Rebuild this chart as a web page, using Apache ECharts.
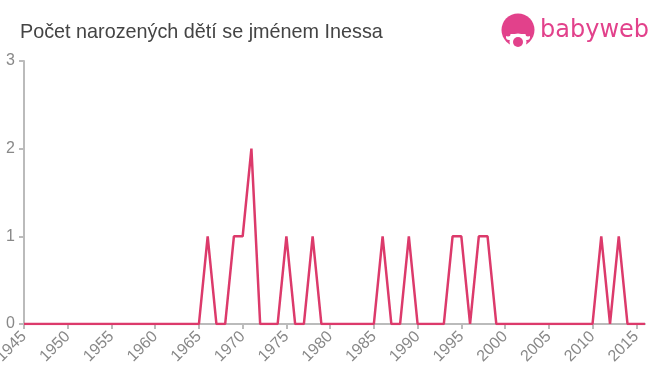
<!DOCTYPE html>
<html>
<head>
<meta charset="utf-8">
<script src="https://cdn.jsdelivr.net/npm/echarts@6/dist/echarts.min.js"></script>
<style>html,body{margin:0;padding:0;background:#fff}#c{width:660px;height:375px}</style>
</head>
<body>
<div id="c"></div>
<script>
var years = [];
for (var y = 1945; y <= 2016; y++) years.push(String(y));
// counts per year 1945..2016
var counts = [
  0,0,0,0,0, 0,0,0,0,0, 0,0,0,0,0, 0,0,0,0,0,   // 1945-1964
  0,1,0,0,1, 1,2,0,0,0, 1,0,0,1,0,            // 1965-1979
  0,0,0,0,0, 0,1,0,0,1, 0,0,0,0,1,            // 1980-1994
  1,0,1,1,0, 0,0,0,0,0, 0,0,0,0,0,            // 1995-2009
  0,1,0,1,0, 0,0                              // 2010-2016
];
var yTicks = [0, 1, 2, 3];
var title = 'Počet narozených dětí se jménem Inessa';

var chart = echarts.init(document.getElementById('c'), null, {renderer: 'canvas'});
chart.setOption({
  animation: false,
  backgroundColor: '#fff',
  title: {
    text: title,
    left: 15, top: 18,
    textStyle: {color: '#444', fontSize: 19.8, fontWeight: 'normal', fontFamily: 'Liberation Sans, Arial, sans-serif'}
  },
  grid: {left: 24, right: 15, top: 61, bottom: 51, containLabel: false, outerBoundsMode: 'none'},
  xAxis: {
    type: 'category',
    data: years,
    boundaryGap: false,
    axisLine: {lineStyle: {color: '#bbb', width: 2}},
    axisTick: {interval: 4, length: 5, lineStyle: {color: '#bbb', width: 2}},
    axisLabel: {interval: 4, rotate: 45, color: '#888', fontSize: 16, margin: 10,
      fontFamily: 'Liberation Sans, Arial, sans-serif'},
    splitLine: {show: false}
  },
  yAxis: {
    type: 'value',
    min: yTicks[0], max: yTicks[yTicks.length - 1], interval: 1,
    axisLine: {show: true, lineStyle: {color: '#bbb', width: 2}},
    axisTick: {show: true, length: 5, lineStyle: {color: '#bbb', width: 2}},
    axisLabel: {color: '#888', fontSize: 16, margin: 9, fontFamily: 'Liberation Sans, Arial, sans-serif'},
    splitLine: {show: false}
  },
  series: [{
    type: 'line',
    data: counts,
    showSymbol: false,
    symbol: 'none',
    lineStyle: {color: '#dc3a6b', width: 2.5},
    itemStyle: {color: '#dc3a6b'}
  }],
  graphic: [
    {type: 'circle', shape: {cx: 518, cy: 30, r: 16.5}, style: {fill: '#e2418b'}},
    {type: 'circle', shape: {cx: 518, cy: 42, r: 8.5}, style: {fill: '#fff'}},
    {type: 'rect', shape: {x: 506, y: 34, width: 24, height: 6, r: 3}, style: {fill: '#fff'}},
    {type: 'circle', shape: {cx: 518, cy: 42, r: 5}, style: {fill: '#e2418b'}},
    {type: 'circle', shape: {cx: 508, cy: 34, r: 2.5}, style: {fill: '#e2418b'}},
    {type: 'circle', shape: {cx: 528, cy: 34, r: 2.5}, style: {fill: '#e2418b'}},
    {type: 'text', left: 540, top: 19, style: {text: 'babyweb', fill: '#e2418b', fontSize: 24,
      fontFamily: 'DejaVu Sans, sans-serif'}}
  ]
});
</script>
</body>
</html>
